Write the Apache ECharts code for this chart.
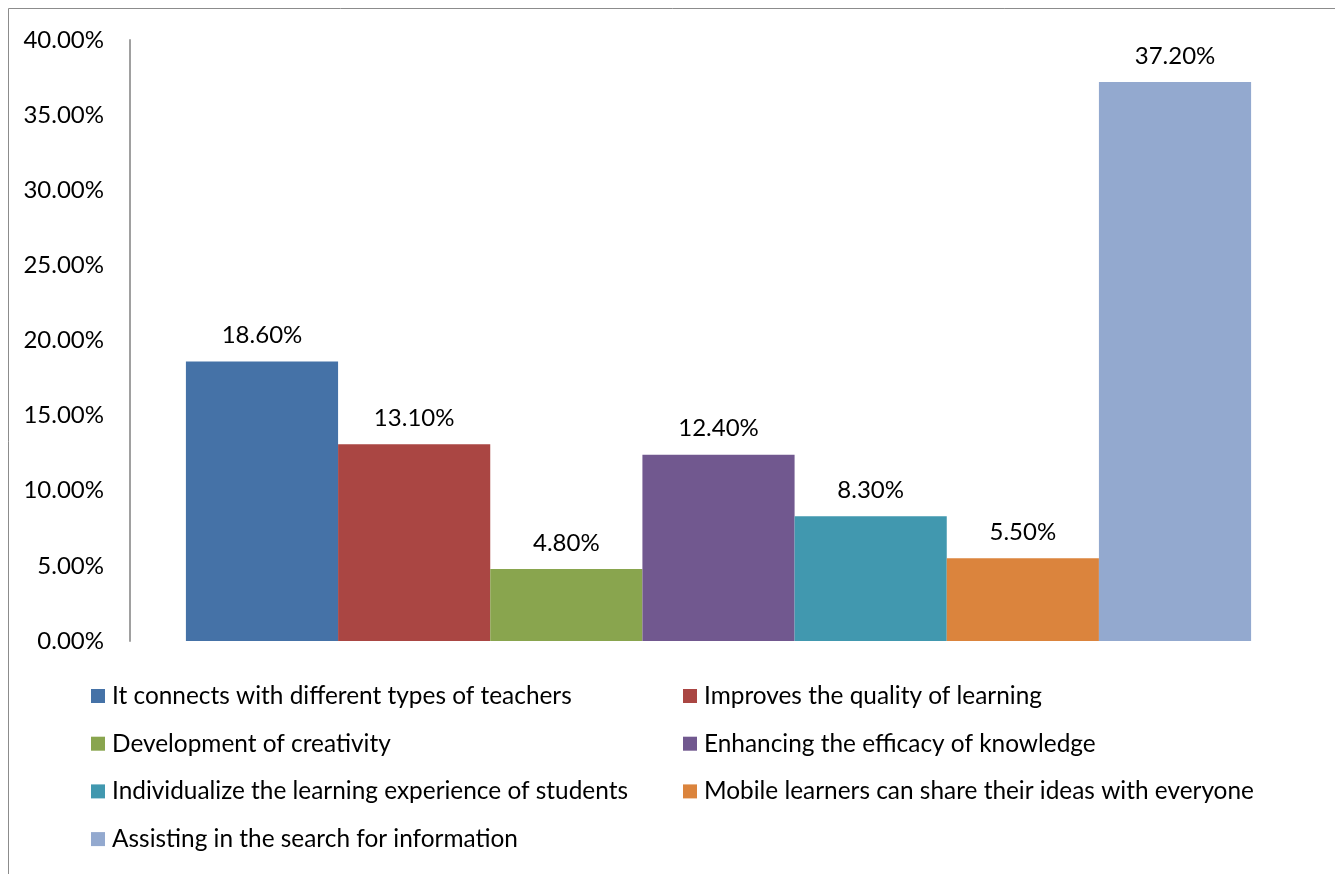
<!DOCTYPE html>
<html>
<head>
    <meta charset="utf-8">
    <title>Mobile learning benefits</title>
    <script src="https://cdn.jsdelivr.net/npm/echarts@6/dist/echarts.min.js"></script>
    <style>
        html, body { margin: 0; padding: 0; background: #fff; }
    </style>
</head>
<body>
<div id="main" style="width:1335px;height:874px;"></div>

<script type="text/javascript">
    // data
    var seriesNames = [
        'It connects with different types of teachers',
        'Improves the quality of learning',
        'Development of creativity',
        'Enhancing the efficacy of knowledge',
        'Individualize the learning experience of students',
        'Mobile learners can share their ideas with everyone',
        'Assisting in the search for information'
    ];
    var seriesValues = [18.6, 13.1, 4.8, 12.4, 8.3, 5.5, 37.2];
    var seriesColors = ['#4572A7', '#AA4643', '#89A54E', '#71588F', '#4198AF', '#DB843D', '#93A9CF'];
    var categories = [''];

    var font = 'Lato';

    var chart = echarts.init(document.getElementById('main'));

    var series = [];
    for (var i = 0; i < seriesNames.length; i++) {
        series.push({
            name: seriesNames[i],
            type: 'bar',
            barGap: '0%',
            barCategoryGap: '9.5%',
            itemStyle: { color: seriesColors[i] },
            label: {
                show: true,
                position: 'top',
                distance: 14,
                color: '#000',
                fontFamily: font,
                fontSize: 24,
                formatter: function (p) { return p.value.toFixed(2) + '%'; }
            },
            data: [seriesValues[i]]
        });
    }

    var legendCommon = {
        orient: 'vertical',
        icon: 'rect',
        padding: 0,
        itemWidth: 14,
        itemHeight: 14,
        itemGap: 23.7,
        top: 684,
        selectedMode: false,
        textStyle: { fontFamily: font, fontSize: 24.4, color: '#000', padding: [0, 0, 0, 2] }
    };

    var option = {
        animation: false,
        backgroundColor: '#fff',
        graphic: [{
            type: 'rect',
            shape: { x: 8.5, y: 8.5, width: 1400, height: 1000 },
            style: { fill: 'none', stroke: '#8c8c8c', lineWidth: 1 }
        }],
        legend: [
            Object.assign({}, legendCommon, {
                left: 91,
                data: [seriesNames[0], seriesNames[2], seriesNames[4], seriesNames[6]]
            }),
            Object.assign({}, legendCommon, {
                left: 683,
                data: [seriesNames[1], seriesNames[3], seriesNames[5]]
            })
        ],
        grid: {
            left: 130,
            right: 28,
            top: 40,
            height: 601
        },
        xAxis: {
            type: 'category',
            data: categories,
            axisLine: { show: false },
            axisTick: { show: false },
            axisLabel: { show: false }
        },
        yAxis: {
            type: 'value',
            min: 0,
            max: 40,
            interval: 5,
            splitLine: { show: false },
            axisTick: { show: false },
            axisLine: { show: true, lineStyle: { color: '#a0a0a0', width: 2 } },
            axisLabel: {
                margin: 26,
                color: '#000',
                fontFamily: font,
                fontSize: 24,
                formatter: function (v) { return v.toFixed(2) + '%'; }
            }
        },
        series: series
    };

    chart.setOption(option);
</script>
</body>
</html>
